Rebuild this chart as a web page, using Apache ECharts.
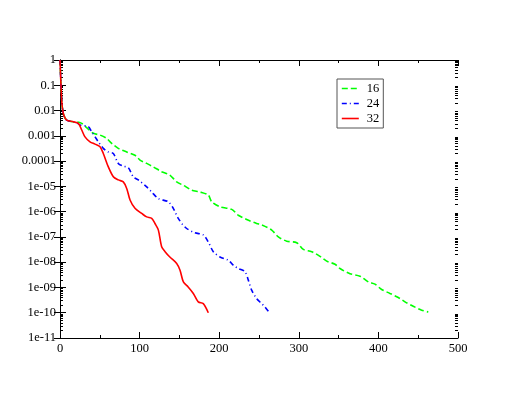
<!DOCTYPE html>
<html>
<head>
<meta charset="utf-8">
<script src="https://cdn.jsdelivr.net/npm/echarts@6/dist/echarts.min.js"></script>
<style>html,body{margin:0;padding:0;background:#fff}#c{width:515px;height:398px}</style>
</head>
<body>
<div id="c"></div>
<script>
var seriesNames = ['16', '24', '32'];
var colors = ['#00ff00', '#0000ff', '#ff0000'];

var x16 = [0, 1, 2, 3, 5, 8.4, 16.7, 18.8, 27.3, 33.5, 41.9, 50.3, 58.6, 65, 73.2, 83.8, 94.2, 100.5, 108.9, 117.2, 127.7, 138, 146.6, 155, 165.5, 176, 186.3, 190.6, 201, 215.7, 224, 234.5, 247, 253.4, 266, 274.3, 284.8, 297.4, 305.7, 316.2, 326.6, 335, 345.5, 351.8, 364.3, 376.9, 387.3, 395.7, 404.1, 414.6, 425, 433.4, 443.8, 454.4, 462.7];
var y16 = [1, 0.158, 0.0316, 0.0126, 6.3e-3, 4.2e-3, 3.6e-3, 3.6e-3, 3.1e-3, 2.1e-3, 1.26e-3, 1.07e-3, 7.9e-4, 5.0e-4, 3.2e-4, 2.3e-4, 1.7e-4, 1.1e-4, 8.1e-5, 5.9e-5, 3.8e-5, 2.8e-5, 1.5e-5, 1.1e-5, 7.1e-6, 6.0e-6, 4.5e-6, 2.45e-6, 1.55e-6, 1.23e-6, 7.2e-7, 4.9e-7, 3.4e-7, 3.0e-7, 1.86e-7, 1.0e-7, 6.8e-8, 5.9e-8, 3.2e-8, 2.6e-8, 1.7e-8, 1.1e-8, 8.3e-9, 5.6e-9, 3.5e-9, 2.8e-9, 1.66e-9, 1.35e-9, 8.3e-10, 5.8e-10, 4.0e-10, 2.7e-10, 1.8e-10, 1.26e-10, 1.07e-10];

var x24 = [0, 1, 2, 3, 5, 8.4, 16.7, 21, 25, 35.6, 39.8, 44, 48.1, 54.4, 60.7, 67, 73.2, 79.5, 85.8, 92, 98.4, 108.9, 115.2, 123.5, 136, 142.3, 148.6, 158, 169.6, 180, 186.3, 192.6, 201, 211.4, 217.7, 224, 232.4, 236.6, 240.8, 247.1, 253.4, 257.5, 263.8];
var y24 = [1, 0.158, 0.0316, 0.0126, 6.3e-3, 4.2e-3, 3.6e-3, 3.3e-3, 2.7e-3, 2.3e-3, 1.45e-3, 9.1e-4, 5.8e-4, 3.2e-4, 2.3e-4, 2.0e-4, 8.1e-5, 6.3e-5, 5.5e-5, 2.4e-5, 1.8e-5, 9.5e-6, 6.0e-6, 3.3e-6, 2.45e-6, 1.35e-6, 5.4e-7, 2.3e-7, 1.45e-7, 1.2e-7, 6.3e-8, 2.6e-8, 1.6e-8, 1.2e-8, 7.6e-9, 5.6e-9, 4.2e-9, 1.95e-9, 7.8e-10, 3.6e-10, 2.3e-10, 1.7e-10, 9.3e-11];

var x32 = [0, 1, 2, 3, 5, 8.4, 16.7, 23, 27.3, 31.4, 37.7, 44, 50.3, 54.4, 60.7, 67, 73.2, 79.5, 83.8, 88, 94.2, 102.6, 108.9, 115.2, 119.3, 123.5, 127.7, 132, 138, 146.6, 150.8, 155, 161, 167.5, 173.7, 180, 186.3];
var y32 = [1, 0.158, 0.0316, 0.0126, 6.3e-3, 4.2e-3, 3.6e-3, 3.1e-3, 1.7e-3, 9.1e-4, 5.8e-4, 4.7e-4, 3.7e-4, 2.0e-4, 5.9e-5, 2.4e-5, 1.8e-5, 1.5e-5, 8.3e-6, 2.9e-6, 1.35e-6, 8.5e-7, 6.2e-7, 5.4e-7, 3.4e-7, 1.9e-7, 4.1e-8, 2.6e-8, 1.6e-8, 8.9e-9, 4.8e-9, 1.66e-9, 1.05e-9, 5.8e-10, 2.7e-10, 2.3e-10, 1.0e-10];

var xTickValues = [0, 100, 200, 300, 400, 500];
var yMin = 1e-11, yMax = 1;

function zip(xs, ys) { return xs.map(function (x, i) { return [x, ys[i]]; }); }

var minorY = [];
for (var e = -11; e < 0; e++) {
  for (var m = 2; m <= 9; m++) minorY.push(m * Math.pow(10, e));
}

function fmtY(v) {
  var e = Math.round(Math.log10(v));
  if (e === 0) return '1';
  if (e >= -4) return '0.' + new Array(-e).join('0') + '1';
  var n = -e;
  return '1e-' + (n < 10 ? '0' + n : '' + n);
}

var font = 'Liberation Serif';
var chart = echarts.init(document.getElementById('c'));

function xAx(pos, showLabel) {
  return {
    type: 'value', position: pos, min: 0, max: 500, interval: 100,
    axisLine: { show: true, lineStyle: { color: '#000', width: 1 } },
    axisTick: { show: true, inside: true, length: 6, lineStyle: { color: '#000' } },
    minorTick: { show: true, splitNumber: 2, length: 3, lineStyle: { color: '#000' } },
    axisLabel: { show: showLabel, color: '#000', fontFamily: font, fontSize: 12.5, margin: 4,
      formatter: function (v) { return xTickValues.indexOf(v) >= 0 ? String(v) : ''; } },
    splitLine: { show: false }, minorSplitLine: { show: false }
  };
}
function yAx(pos, showLabel) {
  return {
    type: 'log', logBase: 10, position: pos, min: yMin, max: yMax, interval: 1,
    axisLine: { show: true, lineStyle: { color: '#000', width: 1 } },
    axisTick: { show: true, inside: true, length: 6, lineStyle: { color: '#000' } },
    axisLabel: { show: showLabel, color: '#000', fontFamily: font, fontSize: 12.5, margin: 4, formatter: fmtY },
    splitLine: { show: false }
  };
}
function yMinor(pos) {
  return {
    type: 'log', logBase: 10, position: pos, min: yMin, max: yMax,
    axisLine: { show: false },
    axisTick: { show: true, inside: true, length: 3, customValues: minorY, lineStyle: { color: '#000' } },
    axisLabel: { show: false },
    splitLine: { show: false }
  };
}

var data = [zip(x16, y16), zip(x24, y24), zip(x32, y32)];
var dashes = [[6, 3], [5, 3, 1, 3], 'solid'];

chart.setOption({
  animation: false,
  backgroundColor: '#fff',
  grid: { left: 60, right: 57, top: 60, bottom: 60 },
  xAxis: [xAx('bottom', true), xAx('top', false)],
  yAxis: [yAx('left', true), yAx('right', false), yMinor('left'), yMinor('right')],
  legend: {
    orient: 'vertical', left: 337, top: 79,
    padding: [3, 4, 3, 4], itemGap: 2, itemWidth: 17, itemHeight: 10,
    borderColor: '#555', borderWidth: 1,
    itemStyle: { opacity: 0 },
    textStyle: { color: '#000', fontFamily: font, fontSize: 12.5, padding: [0, 0, 0, 3] },
    data: seriesNames.map(function (n, i) {
      return { name: n, lineStyle: { color: colors[i], width: 1.6, type: dashes[i] } };
    })
  },
  series: seriesNames.map(function (n, i) {
    return {
      name: n, type: 'line', xAxisIndex: 0, yAxisIndex: 0,
      data: data[i], showSymbol: false, symbol: 'none', smooth: 0.3,
      lineStyle: { color: colors[i], width: 1.6, type: dashes[i] },
      itemStyle: { color: colors[i] },
      z: 2 + i
    };
  })
});
</script>
</body>
</html>
